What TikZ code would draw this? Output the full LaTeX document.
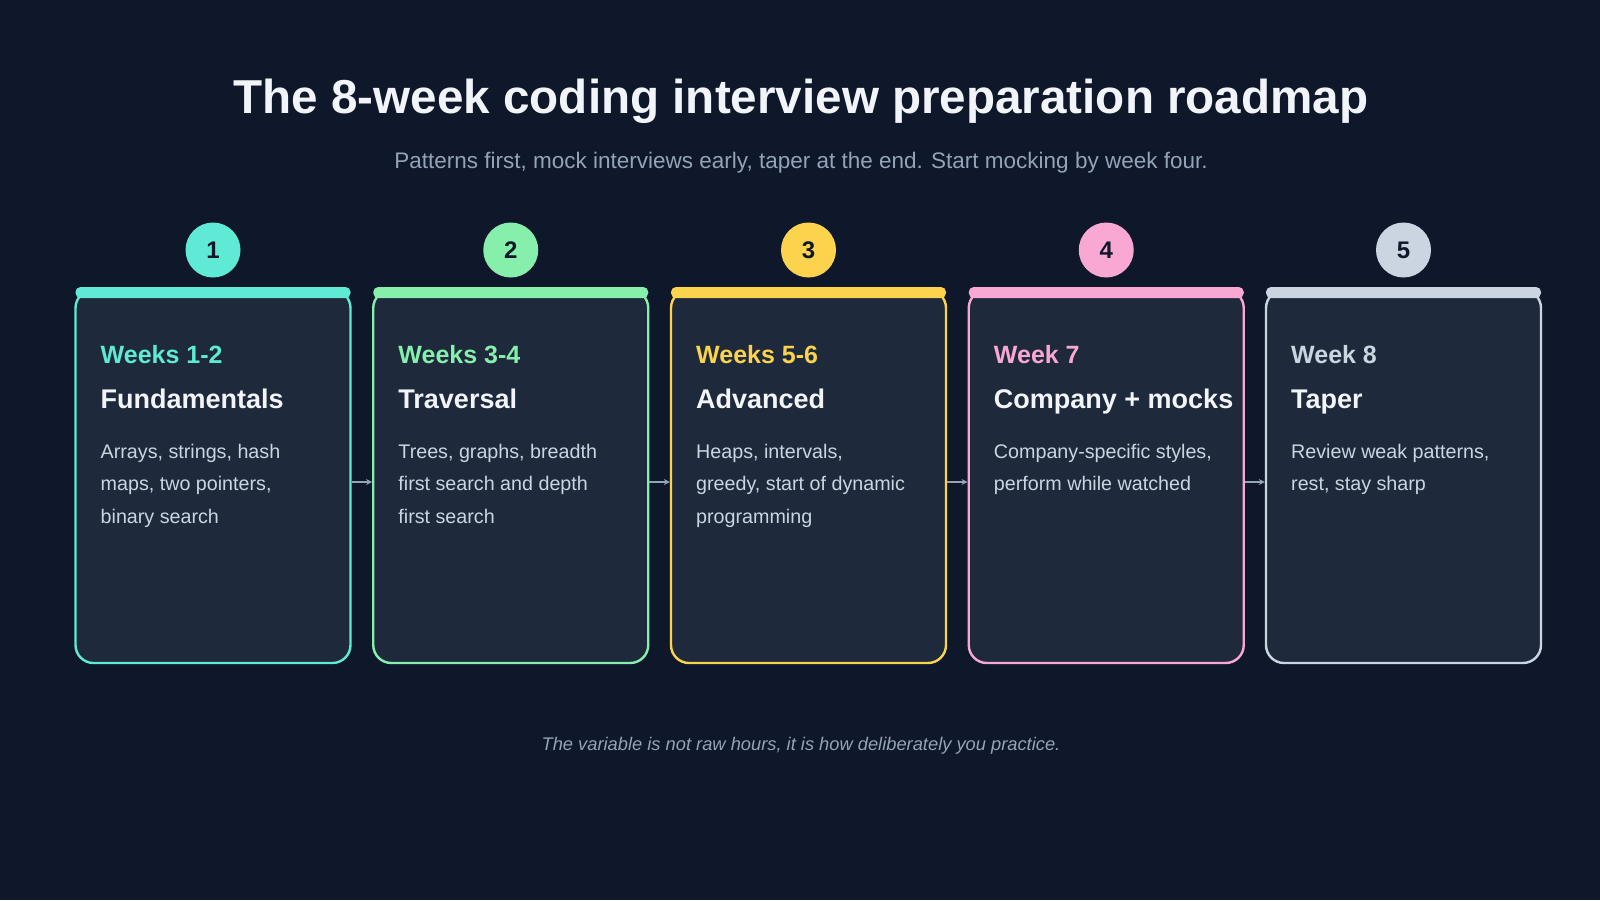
\documentclass[tikz,border=0pt]{standalone}
\usepackage{fontspec}
\setmainfont{Liberation Sans}
\usetikzlibrary{arrows.meta}
\definecolor{bg}{HTML}{0F172A}
\definecolor{cardbg}{HTML}{1E293B}
\definecolor{ttl}{HTML}{F1F5F9}
\definecolor{subc}{HTML}{94A3B8}
\definecolor{bodyc}{HTML}{CBD5E1}
\definecolor{cA}{HTML}{5EEAD4}
\definecolor{cB}{HTML}{86EFAC}
\definecolor{cC}{HTML}{FCD34D}
\definecolor{cD}{HTML}{F9A8D4}
\definecolor{cE}{HTML}{CBD5E1}
\tikzset{
  cardbox/.style={rectangle, rounded corners=18pt, fill=cardbg, line width=2.4pt,
    minimum width=275pt, minimum height=373pt, inner sep=0pt},
  topbar/.style={rectangle, rounded corners=5pt, minimum width=275pt, minimum height=11pt, inner sep=0pt},
  numc/.style={circle, minimum size=55pt, inner sep=0pt, text=bg,
    font=\fontsize{24}{28}\selectfont\bfseries},
  weeklbl/.style={anchor=base west, inner sep=0pt, font=\fontsize{25}{30}\selectfont\bfseries},
  cardttl/.style={anchor=base west, inner sep=0pt, text=ttl, font=\fontsize{27}{32}\selectfont\bfseries},
  bodyln/.style={anchor=base west, inner sep=0pt, text=bodyc, font=\fontsize{19.7}{24}\selectfont},
  flowarr/.style={draw=subc, line width=1.3pt, -{Stealth[length=6pt,width=6pt]}},
}
\begin{document}
\begin{tikzpicture}[x=1pt,y=-1pt]
\fill[bg] (0,0) rectangle (1600,900);
\useasboundingbox (0,0) rectangle (1600,900);

\node[anchor=base, inner sep=0pt, text=ttl, font=\fontsize{47.6}{56}\selectfont\bfseries] (title) at (801,113)
  {The 8-week coding interview preparation roadmap};
\node[anchor=base, inner sep=0pt, text=subc, font=\fontsize{22.5}{26}\selectfont] (subtitle) at (801,168)
  {Patterns first, mock interviews early, taper at the end. Start mocking by week four.};

% cards
\node[cardbox, draw=cA] (c1) at (213,476.5) {};
\node[cardbox, draw=cB] (c2) at (510.75,476.5) {};
\node[cardbox, draw=cC] (c3) at (808.5,476.5) {};
\node[cardbox, draw=cD] (c4) at (1106.25,476.5) {};
\node[cardbox, draw=cE] (c5) at (1403.5,476.5) {};

\node[topbar, fill=cA] (t1) at (213,292.5) {};
\node[topbar, fill=cB] (t2) at (510.75,292.5) {};
\node[topbar, fill=cC] (t3) at (808.5,292.5) {};
\node[topbar, fill=cD] (t4) at (1106.25,292.5) {};
\node[topbar, fill=cE] (t5) at (1403.5,292.5) {};

\node[numc, fill=cA] (n1) at (213,250) {1};
\node[numc, fill=cB] (n2) at (510.75,250) {2};
\node[numc, fill=cC] (n3) at (808.5,250) {3};
\node[numc, fill=cD] (n4) at (1106.25,250) {4};
\node[numc, fill=cE] (n5) at (1403.5,250) {5};

% arrows
\draw[flowarr] ([yshift=-5.5pt]c1.east) -- ([yshift=-5.5pt]c2.west);
\draw[flowarr] ([yshift=-5.5pt]c2.east) -- ([yshift=-5.5pt]c3.west);
\draw[flowarr] ([yshift=-5.5pt]c3.east) -- ([yshift=-5.5pt]c4.west);
\draw[flowarr] ([yshift=-5.5pt]c4.east) -- ([yshift=-5.5pt]c5.west);

% card 1
\node[weeklbl, text=cA] (w1) at (100.5,363) {Weeks 1-2};
\node[cardttl] (h1) at (100.5,408.5) {Fundamentals};
\node[bodyln] (b1a) at (100.5,458.3) {Arrays, strings, hash};
\node[bodyln] (b1b) at (100.5,490.8) {maps, two pointers,};
\node[bodyln] (b1c) at (100.5,523.3) {binary search};

% card 2
\node[weeklbl, text=cB] (w2) at (398.25,363) {Weeks 3-4};
\node[cardttl] (h2) at (398.25,408.5) {Traversal};
\node[bodyln] (b2a) at (398.25,458.3) {Trees, graphs, breadth};
\node[bodyln] (b2b) at (398.25,490.8) {first search and depth};
\node[bodyln] (b2c) at (398.25,523.3) {first search};

% card 3
\node[weeklbl, text=cC] (w3) at (696,363) {Weeks 5-6};
\node[cardttl] (h3) at (696,408.5) {Advanced};
\node[bodyln] (b3a) at (696,458.3) {Heaps, intervals,};
\node[bodyln] (b3b) at (696,490.8) {greedy, start of dynamic};
\node[bodyln] (b3c) at (696,523.3) {programming};

% card 4
\node[weeklbl, text=cD] (w4) at (993.75,363) {Week 7};
\node[cardttl] (h4) at (993.75,408.5) {Company + mocks};
\node[bodyln] (b4a) at (993.75,458.3) {Company-specific styles,};
\node[bodyln] (b4b) at (993.75,490.8) {perform while watched};

% card 5
\node[weeklbl, text=cE] (w5) at (1291,363) {Week 8};
\node[cardttl] (h5) at (1291,408.5) {Taper};
\node[bodyln] (b5a) at (1291,458.3) {Review weak patterns,};
\node[bodyln] (b5b) at (1291,490.8) {rest, stay sharp};

\node[anchor=base, inner sep=0pt, text=subc, font=\fontsize{18.3}{22}\selectfont\itshape] (footer) at (801,750.5)
  {The variable is not raw hours, it is how deliberately you practice.};
\end{tikzpicture}
\end{document}
